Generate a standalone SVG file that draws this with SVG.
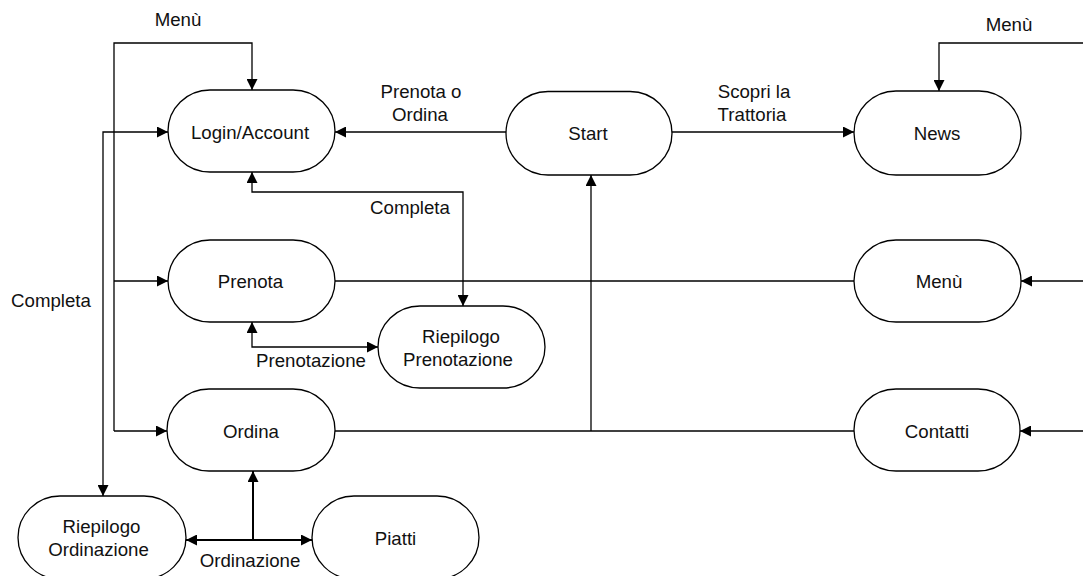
<svg xmlns="http://www.w3.org/2000/svg" width="1083" height="576" viewBox="0 0 1083 576">
  <style>
    .node rect { fill: #ffffff; stroke: #000000; stroke-width: 1.3; }
    text { font-family: "Liberation Sans", Arial, sans-serif; font-size: 18.67px; fill: #111111; text-anchor: middle; }
    .edge { fill: none; stroke: #000000; stroke-width: 1.3; }
    .edge.bold { stroke-width: 2; }
    .arrow-both { marker-start: url(#arrow); marker-end: url(#arrow); }
    .arrow-end { marker-end: url(#arrow); }
  </style>
  <defs>
    <marker id="arrow" viewBox="0 0 11 11" refX="11" refY="5.5" markerUnits="userSpaceOnUse" markerWidth="11" markerHeight="11" orient="auto-start-reverse">
      <path d="M0,0 L11,5.5 L0,11 z" fill="#000000"/>
    </marker>
  </defs>

  <rect width="1083" height="576" fill="#ffffff"/>

  <!-- connectors -->
  <g id="connectors">
    <!-- Start -> Login/Account -->
    <path class="edge arrow-end" d="M506,132 L335,132"/>
    <!-- Start -> News -->
    <path class="edge arrow-end" d="M672,132 L854,132"/>
    <!-- left "Menù" bus: Login/Account, Prenota, Ordina -->
    <path class="edge arrow-end" d="M114,431 L114,43 L252,43 L252,90"/>
    <path class="edge arrow-end" d="M114,281 L168,281"/>
    <path class="edge arrow-end" d="M114,431 L167,431"/>
    <!-- Completa: Login/Account <-> Riepilogo Ordinazione -->
    <path class="edge arrow-both" d="M168,132 L103,132 L103,496"/>
    <!-- Completa: Login/Account <-> Riepilogo Prenotazione -->
    <path class="edge arrow-both" d="M252,172 L252,192 L463,192 L463,306"/>
    <!-- Prenotazione: Prenota <-> Riepilogo Prenotazione -->
    <path class="edge arrow-both" d="M252,322 L252,347 L378,347"/>
    <!-- Ordinazione: Ordina, Riepilogo Ordinazione, Piatti -->
    <path class="edge bold arrow-end" d="M253,540 L253,471"/>
    <path class="edge bold arrow-both" d="M186,540 L312,540"/>
    <!-- Prenota - Menù -->
    <path class="edge" d="M335,281 L854,281"/>
    <!-- Ordina - Contatti, back up to Start -->
    <path class="edge" d="M335,431 L854,431"/>
    <path class="edge arrow-end" d="M591,431 L591,175"/>
    <!-- right "Menù" feed: News, Menù, Contatti -->
    <path class="edge arrow-end" d="M1083,43 L939,43 L939,91"/>
    <path class="edge arrow-end" d="M1083,281 L1021,281"/>
    <path class="edge arrow-end" d="M1083,431 L1020,431"/>

    <!-- connector labels -->
    <text x="178" y="25.5">Menù</text>
    <text x="1009" y="30.7">Menù</text>
    <text x="421" y="98.3">Prenota o</text>
    <text x="420" y="120.7">Ordina</text>
    <text x="754" y="98.3">Scopri la</text>
    <text x="752" y="121">Trattoria</text>
    <text x="410" y="214">Completa</text>
    <text x="51" y="306.7">Completa</text>
    <text x="311" y="367.3">Prenotazione</text>
    <text x="250" y="566.7">Ordinazione</text>
  </g>

  <!-- nodes -->
  <g id="login" class="node">
    <rect x="168" y="90" width="167" height="82" rx="42" ry="41"/>
    <text x="250" y="139.3">Login/Account</text>
  </g>
  <g id="start" class="node">
    <rect x="506" y="91.5" width="166" height="83.5" rx="42" ry="41.7"/>
    <text x="588" y="140">Start</text>
  </g>
  <g id="news" class="node">
    <rect x="854" y="91" width="167" height="84" rx="42" ry="42"/>
    <text x="937" y="140">News</text>
  </g>
  <g id="prenota" class="node">
    <rect x="168" y="240" width="167" height="82" rx="42" ry="41"/>
    <text x="250.5" y="288.3">Prenota</text>
  </g>
  <g id="menu" class="node">
    <rect x="854" y="240" width="167" height="82" rx="42" ry="41"/>
    <text x="939" y="287.5">Menù</text>
  </g>
  <g id="riepilogo-prenotazione" class="node">
    <rect x="378" y="306" width="167" height="82" rx="42" ry="41"/>
    <text x="461" y="343.3">Riepilogo</text>
    <text x="458" y="365.5">Prenotazione</text>
  </g>
  <g id="ordina" class="node">
    <rect x="167" y="389" width="168" height="82" rx="42" ry="41"/>
    <text x="251" y="438.3">Ordina</text>
  </g>
  <g id="contatti" class="node">
    <rect x="854" y="389" width="166" height="82" rx="42" ry="41"/>
    <text x="937" y="438.3">Contatti</text>
  </g>
  <g id="riepilogo-ordinazione" class="node">
    <rect x="18" y="496" width="168" height="83" rx="42" ry="41.5"/>
    <text x="101.5" y="533.3">Riepilogo</text>
    <text x="98.5" y="555.5">Ordinazione</text>
  </g>
  <g id="piatti" class="node">
    <rect x="312" y="496" width="167" height="83" rx="42" ry="41.5"/>
    <text x="395.5" y="545">Piatti</text>
  </g>
</svg>
